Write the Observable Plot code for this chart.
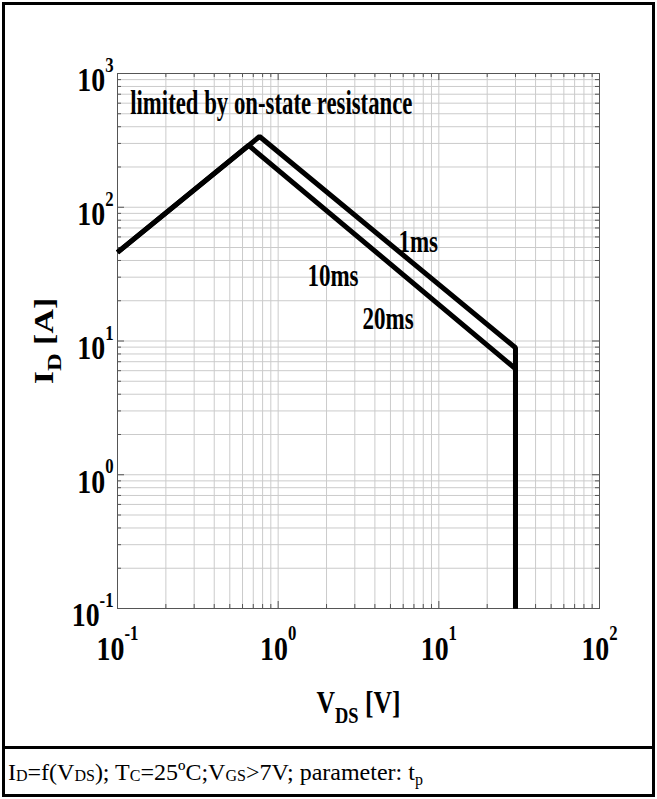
<!DOCTYPE html>
<html><head><meta charset="utf-8">
<script src="https://cdn.jsdelivr.net/npm/d3@7"></script>
<script src="https://cdn.jsdelivr.net/npm/@observablehq/plot@0.6"></script>
<style>
body{margin:0;background:#fff;}
#wrap{position:relative;width:657px;height:799px;overflow:hidden;background:#fff;}
#chart{position:absolute;left:0;top:0;}
#frame{position:absolute;left:2px;top:2px;width:653px;height:795px;border:3px solid #000;box-sizing:border-box;pointer-events:none;}
#divider{position:absolute;left:2px;top:746px;width:653px;height:3px;background:#000;}
#caption{position:absolute;left:8px;top:757px;font-family:"Liberation Serif",serif;font-size:24px;color:#000;white-space:nowrap;line-height:30px;}
#caption .s{font-size:16px;vertical-align:-1px;}
#caption .p{font-size:16px;vertical-align:-5px;}
</style></head>
<body><div id="wrap"><div id="chart"></div><div id="frame"></div><div id="divider"></div>
<div id="caption">I<span class="s">D</span>=f(V<span class="s">DS</span>); T<span class="s">C</span>=25ºC;V<span class="s">GS</span>&gt;7V; parameter: t<span class="p">p</span></div></div>
<script>
// axis decades and tick labels
const xDecades = [0.1, 1, 10, 100];
const yDecades = [0.1, 1, 10, 100, 1000];
const xTickText = ["10^-1", "10^0", "10^1", "10^2"];
const yTickText = ["10^-1", "10^0", "10^1", "10^2", "10^3"];
const minorMultipliers = [2, 3, 4, 5, 6, 7, 8, 9];

// safe operating area curves (VDS in V, ID in A)
const curveNames = ["1ms", "10ms/20ms"];
const vdsShort = [0.1, 0.766, 30, 30];
const idShort = [46, 338, 8.9, 0.1];
const vdsLong = [0.1, 0.655, 30, 30];
const idLong = [46, 290, 6.2, 0.1];

// annotations
const noteText = ["limited by on-state resistance", "1ms", "10ms", "20ms"];
const noteVds = [0.12, 5.6, 1.52, 3.35];
const noteId = [500, 46, 25.6, 12.2];
const noteSize = [33, 32, 32, 32];

const xLabel = "V_DS [V]";
const yLabel = "I_D [A]";

const xMinor = xDecades.slice(0, -1).flatMap(d => minorMultipliers.map(m => m * d));
const yMinor = yDecades.slice(0, -1).flatMap(d => minorMultipliers.map(m => m * d));

const rows = [];
vdsShort.forEach((v, i) => rows.push({curve: curveNames[0], vds: v, id: idShort[i]}));
vdsLong.forEach((v, i) => rows.push({curve: curveNames[1], vds: v, id: idLong[i]}));
const notes = noteText.map((t, i) => ({t, vds: noteVds[i], id: noteId[i], s: noteSize[i]}));
const xTicks = xDecades.map((d, i) => ({vds: d, id: yDecades[0], t: xTickText[i]}));
const yTicks = yDecades.map((d, i) => ({vds: xDecades[0], id: d, t: yTickText[i]}));

const W = 657, H = 746, ML = 117, MR = 58, MT = 73, MB = 138;
const PW = W - ML - MR, PH = H - MT - MB;

const grid = "#cbcbcb", axisCol = "#555";
const plot = Plot.plot({
  width: W, height: H,
  marginLeft: ML, marginRight: MR, marginTop: MT, marginBottom: MB,
  x: {type: "log", domain: [0.1, 100], axis: null},
  y: {type: "log", domain: [0.1, 1000], axis: null},
  style: {fontFamily: "Liberation Serif", background: "white", color: "black"},
  marks: [
    Plot.ruleX(xMinor, {stroke: grid, strokeWidth: 1}),
    Plot.ruleX(xDecades, {stroke: grid, strokeWidth: 1}),
    Plot.ruleY(yMinor, {stroke: grid, strokeWidth: 1}),
    Plot.ruleY(yDecades, {stroke: grid, strokeWidth: 1}),
    // inward ticks on all four sides
    Plot.tickX(xMinor, {x: d => d, insetTop: PH - 4, stroke: axisCol}),
    Plot.tickX(xMinor, {x: d => d, insetBottom: PH - 4, stroke: axisCol}),
    Plot.tickX(xDecades, {x: d => d, insetTop: PH - 7, stroke: axisCol}),
    Plot.tickX(xDecades, {x: d => d, insetBottom: PH - 7, stroke: axisCol}),
    Plot.tickY(yMinor, {y: d => d, insetRight: PW - 4, stroke: axisCol}),
    Plot.tickY(yMinor, {y: d => d, insetLeft: PW - 4, stroke: axisCol}),
    Plot.tickY(yDecades, {y: d => d, insetRight: PW - 7, stroke: axisCol}),
    Plot.tickY(yDecades, {y: d => d, insetLeft: PW - 7, stroke: axisCol}),
    Plot.frame({stroke: axisCol, strokeWidth: 1}),
    // tick labels
    Plot.text(xTicks, {x: "vds", y: "id", text: "t", lineAnchor: "top", textAnchor: "middle", dy: 27,
      fontSize: 34, fontWeight: "bold", fill: "#000"}),
    Plot.text(yTicks, {x: "vds", y: "id", text: "t", lineAnchor: "middle", textAnchor: "end", dx: -4, dy: 7,
      fontSize: 34, fontWeight: "bold", fill: "#000"}),
    Plot.line(rows, {x: "vds", y: "id", z: "curve", stroke: "#000", strokeWidth: 5, strokeLinejoin: "miter", strokeLinecap: "butt"}),
    Plot.text(notes, {x: "vds", y: "id", text: "t", fontSize: "s", fontWeight: "bold", textAnchor: "start", lineAnchor: "bottom", fill: "#000"}),
    Plot.text([xLabel], {text: d => d, frameAnchor: "bottom", textAnchor: "middle", lineAnchor: "bottom", dy: 104, fontSize: 32, fontWeight: "bold", fill: "#000"}),
    Plot.text([yLabel], {text: d => d, frameAnchor: "left", textAnchor: "middle", rotate: -90, lineAnchor: "bottom", dx: -65, fontSize: 34, fontWeight: "bold", fill: "#000"})
  ]
});
document.getElementById("chart").appendChild(plot);

const svg = d3.select(plot);
// horizontal condensing of the bold serif labels, about each text's own anchor
function squeeze(el, sx, sy) {
  const t = el.getAttribute("transform") || "";
  el.setAttribute("transform", `${t} scale(${sx},${sy})`);
}
svg.selectAll("text").each(function() {
  const el = this;
  const s = el.textContent;
  let m;
  if ((m = s.match(/^10\^(.+)$/))) {
    el.textContent = "";
    d3.select(el).append("tspan").text("10");
    d3.select(el).append("tspan").attr("dy", "-0.95em").attr("font-size", "0.6em").text(m[1]);
    squeeze(el, 0.82, 1);
  } else if ((m = s.match(/^(\w)_(\w+) (.+)$/))) {
    el.textContent = "";
    d3.select(el).append("tspan").text(m[1]);
    d3.select(el).append("tspan").attr("dy", "0.45em").attr("font-size", "0.72em").text(m[2]);
    d3.select(el).append("tspan").attr("dy", "-0.32em").text(" " + m[3]);
    const rot = (el.getAttribute("transform") || "").includes("rotate");
    if (rot) squeeze(el, 1, 0.8); else squeeze(el, 0.8, 1);
  } else if (s.length) {
    squeeze(el, s.length > 5 ? 0.69 : 0.72, 1);
  }
});
</script>
</body></html>
